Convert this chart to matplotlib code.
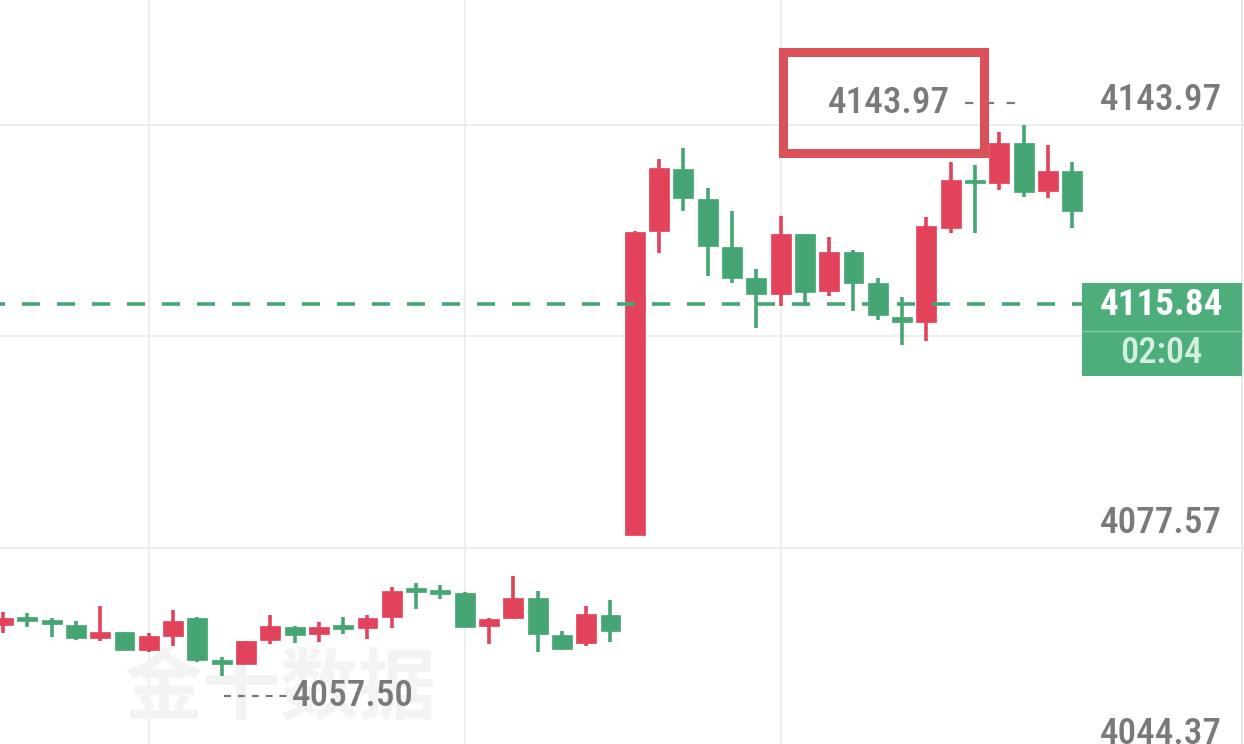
import matplotlib
matplotlib.use("Agg")
import matplotlib.pyplot as plt
import matplotlib.transforms as mtrans
from matplotlib.patches import Rectangle
from matplotlib import font_manager as fm

# ---------------- data ----------------
opens = [4065.5, 4066.5, 4066.0, 4065.5, 4063.4, 4064.4, 4061.5, 4063.7, 4066.6, 4059.7,
         4059.3, 4063.1, 4065.2, 4064.0, 4065.3, 4065.0, 4066.7, 4071.0, 4070.7, 4070.5,
         4065.3, 4066.6, 4069.7, 4063.9, 4062.6, 4067.0, 4079.6, 4127.3, 4137.1, 4132.3,
         4124.8, 4119.9, 4117.4, 4126.9, 4117.9, 4124.0, 4119.2, 4113.8, 4113.0, 4127.8,
         4135.2, 4134.9, 4141.1, 4133.6, 4136.7]
highs = [4067.5, 4067.4, 4066.6, 4066.1, 4068.4, 4064.4, 4064.2, 4067.8, 4066.7, 4060.4,
         4063.0, 4067.0, 4065.3, 4065.9, 4066.7, 4067.0, 4071.4, 4072.1, 4071.7, 4070.6,
         4066.6, 4073.2, 4070.8, 4064.5, 4068.4, 4069.4, 4127.3, 4138.6, 4140.4, 4134.1,
         4130.5, 4121.4, 4129.7, 4126.9, 4126.4, 4124.3, 4119.9, 4117.0, 4129.5, 4138.2,
         4137.7, 4142.9, 4143.97, 4140.8, 4138.2]
lows = [4064.2, 4065.2, 4063.6, 4063.1, 4063.0, 4061.5, 4061.2, 4062.2, 4059.7, 4057.5,
        4059.3, 4062.5, 4062.6, 4062.8, 4064.0, 4063.3, 4065.0, 4068.0, 4069.5, 4065.1,
        4062.5, 4066.5, 4061.2, 4061.5, 4062.2, 4062.8, 4079.6, 4123.9, 4130.5, 4120.3,
        4119.2, 4112.1, 4115.5, 4115.5, 4117.1, 4114.8, 4113.3, 4109.4, 4110.1, 4127.0,
        4127.0, 4133.8, 4132.7, 4132.5, 4127.8]
closes = [4066.6, 4066.3, 4065.8, 4063.4, 4064.4, 4061.5, 4063.7, 4066.1, 4060.0, 4059.5,
          4063.0, 4065.3, 4063.9, 4065.2, 4065.1, 4066.6, 4070.8, 4070.9, 4070.6, 4065.2,
          4066.4, 4069.7, 4064.0, 4061.7, 4067.2, 4064.5, 4127.2, 4137.2, 4132.5, 4125.0,
          4119.9, 4117.4, 4126.9, 4117.7, 4124.0, 4119.2, 4114.1, 4113.0, 4128.1, 4135.3,
          4135.0, 4141.1, 4133.4, 4136.7, 4130.5]

grid_levels = [4143.97, 4110.77, 4077.57, 4044.37]
label_levels = [4143.97, 4077.57, 4044.37]   # 4110.77 is hidden behind the price box
label_texts = ["4143.97", "4077.57", "4044.37"]
vgrid_idx = [6, 19, 32]
last_price = 4115.84
last_price_label = "4115.84"
countdown = "02:04"
max_label = "4143.97"
min_label = "4057.50"
watermark = "金十数据"

# ---------------- style ----------------
RED = "#E2435A"
GREEN = "#45A673"
BOX_GREEN = "#4DAE7C"
TXT = "#7a7a7a"
GRID = "#ebebeb"
W, H = 1244, 744

plt.rcParams["lines.scale_dashes"] = False
fig = plt.figure(figsize=(W / 100, H / 100), dpi=100)
fig.patch.set_facecolor("white")
ax = fig.add_axes([0, 0, 1, 1])
ax.set_facecolor("white")
ax.set_xlim(-0.123, 51.07)
ax.set_ylim(4046.80, 4163.59)
ax.axis("off")

def pick_family(cands):
    for f in cands:
        try:
            fm.findfont(fm.FontProperties(family=f), fallback_to_default=False)
            return f
        except Exception:
            pass
    return "DejaVu Sans"

NUMFAM = pick_family(["Liberation Sans Narrow", "Roboto Condensed", "Open Sans Condensed",
                      "DejaVu Sans Condensed", "Roboto"])
NUMW = "medium"
renderer = fig.canvas.get_renderer()

def fit_size(s, target_w, weight="normal", family=NUMFAM):
    t = fig.text(0, 0, s, family=family, weight=weight, size=30)
    w = t.get_window_extent(renderer).width
    t.remove()
    return 30 * target_w / w

NUM_SIZE = fit_size("4143.97", 122, weight=NUMW)

def off(dx=0, dy=0):
    # offset in pixels (dy positive = up)
    return mtrans.offset_copy(ax.transData, fig=fig, x=dx, y=dy, units="dots")

def bx(t):
    return mtrans.blended_transform_factory(ax.transAxes, t)

# ---------------- grid ----------------
for lv in grid_levels:
    ax.axhline(lv, color=GRID, lw=1.2, zorder=0)
for vi in vgrid_idx:
    ax.axvline(vi, color=GRID, lw=1.2, zorder=0)
ax.axvline(1242 / W, color="#e4e4e4", lw=1.2, zorder=0) if False else None
ax.plot([1242 / W, 1242 / W], [0, 1], transform=ax.transAxes, color="#e4e4e4", lw=1.2, zorder=0)

# ---------------- watermark ----------------
wm_size = fit_size("十", 78, weight="bold", family="Noto Sans CJK SC")
ax.text(280 / W, 1 - 690 / H, watermark, transform=ax.transAxes, ha="center", va="center",
        family="Noto Sans CJK SC", weight="bold", size=wm_size, color="#f3f3f3", zorder=0.5)

# ---------------- candles ----------------
xs = list(range(len(opens)))
min_body = 0.62
for x, o, h, l, c in zip(xs, opens, highs, lows, closes):
    col = RED if c > o else GREEN
    ax.vlines(x, l, h, color=col, lw=2.6, zorder=2)
    lo, hi = min(o, c), max(o, c)
    if hi - lo < min_body:
        mid = (hi + lo) / 2
        lo, hi = mid - min_body / 2, mid + min_body / 2
    ax.bar(x, hi - lo, bottom=lo, width=0.82, color=col, edgecolor=col, lw=0.5, zorder=3)

# ---------------- axis labels (right) ----------------
for lv, lab in zip(label_levels, label_texts):
    ax.text(1222 / W, lv, lab, transform=bx(off(0, 25)),
            ha="right", va="center", family=NUMFAM, weight=NUMW, size=NUM_SIZE, color=TXT, zorder=4)

# ---------------- last price line & box ----------------
ax.axhline(last_price, xmin=0, xmax=1082 / W, color=GREEN, lw=2.6,
           linestyle=(9.4, (13.0, 12.2)), zorder=5)
py = ax.transData.transform((0, last_price))[1]
box = Rectangle((1082 / W, py - 72), (1242 - 1082) / W, 93, transform=bx(mtrans.IdentityTransform()),
                facecolor=BOX_GREEN, edgecolor="none", zorder=6)
ax.add_patch(box)
ax.plot([1082 / W, 1242 / W], [py - 27, py - 27], transform=bx(mtrans.IdentityTransform()),
        color="#86c9a6", lw=1.0, zorder=7)
ax.text(1161 / W, last_price, last_price_label, transform=bx(off(0, -1)),
        ha="center", va="center", family=NUMFAM, weight="bold", size=NUM_SIZE, color="white", zorder=8)
ax.text(1161 / W, last_price, countdown, transform=bx(off(0, -49)),
        ha="center", va="center", family=NUMFAM, weight=NUMW, size=NUM_SIZE * 0.98, color="#d3efe0", zorder=8)

# ---------------- max / min annotations ----------------
imax = max(range(len(highs)), key=lambda k: highs[k])
imin = min(range(len(lows)), key=lambda k: lows[k])
hmax, lmin = highs[imax], lows[imin]

ax.text(950 / W, hmax, max_label, transform=bx(off(0, 22)),
        ha="right", va="center", family=NUMFAM, weight=NUMW, size=NUM_SIZE, color=TXT, zorder=4)
ax.plot([965 / W, 1018 / W], [hmax, hmax], transform=bx(off(0, 22)),
        color=TXT, lw=1.6, linestyle=(0, (6, 9)), zorder=4)

ax.text(292 / W, lmin, min_label, transform=bx(off(0, -20)),
        ha="left", va="center", family=NUMFAM, weight=NUMW, size=NUM_SIZE, color=TXT, zorder=4)
x_min_px = ax.transData.transform((imin, lmin))[0]
ax.plot([(x_min_px + 2) / W, 290 / W], [lmin, lmin], transform=bx(off(0, -20)),
        color=TXT, lw=1.6, linestyle=(0, (5, 5)), zorder=4)

# ---------------- red highlight box ----------------
hl = Rectangle((783.5 / W, 1 - 152.5 / H), 200 / W, 101 / H, transform=ax.transAxes,
               facecolor="none", edgecolor="#D9525A", lw=6.5, zorder=10)
ax.add_patch(hl)

fig.savefig("out.png", dpi=100, facecolor="white")
